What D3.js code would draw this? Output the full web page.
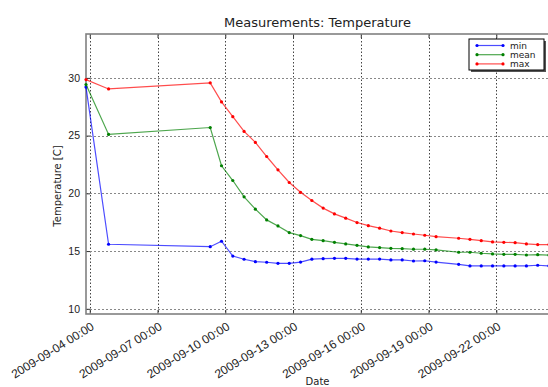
<!DOCTYPE html>
<html>
<head>
<meta charset="utf-8">
<script src="https://cdn.jsdelivr.net/npm/d3@7"></script>
<style>
	html, body {margin: 0; padding: 0; background: #fff;}
	svg {display: block; font-family: "DejaVu Sans", sans-serif;}
</style>
</head>
<body>
<div id="chart"></div>
<script>
// Sample times (12 h steps, with gaps)
const times = [
	"2009-09-03 20:00", "2009-09-04 20:00", "2009-09-09 08:00", "2009-09-09 20:00",
	"2009-09-10 08:00", "2009-09-10 20:00", "2009-09-11 08:00", "2009-09-11 20:00",
	"2009-09-12 08:00", "2009-09-12 20:00", "2009-09-13 08:00", "2009-09-13 20:00",
	"2009-09-14 08:00", "2009-09-14 20:00", "2009-09-15 08:00", "2009-09-15 20:00",
	"2009-09-16 08:00", "2009-09-16 20:00", "2009-09-17 08:00", "2009-09-17 20:00",
	"2009-09-18 08:00", "2009-09-18 20:00", "2009-09-19 08:00", "2009-09-20 08:00",
	"2009-09-20 20:00", "2009-09-21 08:00", "2009-09-21 20:00", "2009-09-22 08:00",
	"2009-09-22 20:00", "2009-09-23 08:00", "2009-09-23 20:00", "2009-09-24 08:00",
];

const minTemps = [
	29.2, 15.59, 15.38, 15.85, 14.57, 14.29, 14.08, 14.03,
	13.94, 13.94, 14.05, 14.30, 14.34, 14.37, 14.37, 14.31,
	14.31, 14.31, 14.23, 14.23, 14.14, 14.16, 14.05, 13.85,
	13.71, 13.71, 13.71, 13.71, 13.71, 13.71, 13.77, 13.71,
];
const meanTemps = [
	29.42, 25.1, 25.7, 22.39, 21.11, 19.70, 18.63, 17.70,
	17.18, 16.60, 16.34, 16.02, 15.90, 15.76, 15.62, 15.50,
	15.36, 15.30, 15.24, 15.21, 15.16, 15.16, 15.10, 14.90,
	14.90, 14.81, 14.75, 14.72, 14.72, 14.66, 14.69, 14.64,
];
const maxTemps = [
	29.85, 29.04, 29.57, 27.92, 26.64, 25.36, 24.41, 23.19,
	22.04, 20.94, 20.09, 19.38, 18.72, 18.22, 17.85, 17.47,
	17.20, 16.98, 16.74, 16.60, 16.48, 16.37, 16.25, 16.11,
	16.02, 15.90, 15.79, 15.76, 15.73, 15.62, 15.56, 15.56,
];

const seriesNames = ["min", "mean", "max"];
const seriesColors = ["#0000ff", "#008000", "#ff0000"];

const xTicks = [
	"2009-09-04 00:00", "2009-09-07 00:00", "2009-09-10 00:00", "2009-09-13 00:00",
	"2009-09-16 00:00", "2009-09-19 00:00", "2009-09-22 00:00",
];
const yTicks = [10, 15, 20, 25, 30];
const yDomain = [9.55, 33.8];

const width = 548;
const height = 387;
const plot = {left: 86, right: 549, top: 34, bottom: 314};

const parse = d3.timeParse("%Y-%m-%d %H:%M");
const fmt = d3.timeFormat("%Y-%m-%d %H:%M");
const dates = times.map(parse);

const series = [minTemps, meanTemps, maxTemps].map((vals, i) => ({
	name: seriesNames[i],
	color: seriesColors[i],
	points: vals.map((v, j) => ({date: dates[j], value: v})),
}));

const x = d3.scaleTime()
	.domain([dates[0], dates[dates.length - 1]])
	.range([plot.left, plot.right]);

const y = d3.scaleLinear()
	.domain(yDomain)
	.range([plot.bottom, plot.top]);

const svg = d3.select("#chart")
	.append("svg")
	.attr("width", width)
	.attr("height", height);

// Grid (dotted, like "k:")
const xTickDates = xTicks.map(parse);
svg.append("g")
	.selectAll("line")
	.data(xTickDates)
	.join("line")
	.attr("x1", d => Math.round(x(d)) + 0.5)
	.attr("x2", d => Math.round(x(d)) + 0.5)
	.attr("y1", plot.top)
	.attr("y2", plot.bottom)
	.attr("stroke", "#444")
	.attr("stroke-width", 1)
	.attr("stroke-dasharray", "1.5,2");

svg.append("g")
	.selectAll("line")
	.data(yTicks)
	.join("line")
	.attr("x1", plot.left)
	.attr("x2", plot.right)
	.attr("y1", d => Math.round(y(d)) + 0.5)
	.attr("y2", d => Math.round(y(d)) + 0.5)
	.attr("stroke", "#888")
	.attr("stroke-width", 1)
	.attr("stroke-dasharray", "2,2");

// Axes (ticks inside)
const xAxis = svg.append("g")
	.attr("transform", `translate(0,${plot.bottom})`)
	.call(d3.axisBottom(x).tickValues(xTickDates).tickSize(-4).tickFormat(fmt));
xAxis.select(".domain").remove();
xAxis.selectAll(".tick line").attr("stroke", "#333");
xAxis.selectAll(".tick text")
	.attr("fill", "#222")
	.attr("font-size", "12px")
	.attr("text-anchor", "end")
	.attr("x", 0)
	.attr("y", 7)
	.attr("dy", "0.75em")
	.attr("transform", "rotate(-32, 0, 7)");

svg.append("g")
	.attr("transform", `translate(0,${plot.top})`)
	.call(d3.axisTop(x).tickValues(xTickDates).tickSize(-4).tickFormat(""))
	.call(g => g.select(".domain").remove())
	.selectAll(".tick line").attr("stroke", "#333");

const yAxis = svg.append("g")
	.attr("transform", `translate(${plot.left},0)`)
	.call(d3.axisLeft(y).tickValues(yTicks).tickSize(-4).tickPadding(6));
yAxis.select(".domain").remove();
yAxis.selectAll(".tick line").attr("stroke", "#333");
yAxis.selectAll(".tick text")
	.attr("fill", "#222")
	.attr("font-size", "10.5px");

// Frame
svg.append("rect")
	.attr("x", plot.left)
	.attr("y", plot.top)
	.attr("width", plot.right - plot.left)
	.attr("height", plot.bottom - plot.top)
	.attr("fill", "none")
	.attr("stroke", "#808080")
	.attr("stroke-width", 1.6);

// Lines + dot markers
const line = d3.line()
	.x(d => x(d.date))
	.y(d => y(d.value));

const sg = svg.append("g")
	.selectAll("g")
	.data(series)
	.join("g");

sg.append("path")
	.attr("d", d => line(d.points))
	.attr("fill", "none")
	.attr("stroke", d => d.color)
	.attr("stroke-opacity", 0.7)
	.attr("stroke-width", 1.2);

sg.selectAll("circle")
	.data(d => d.points.map(p => ({...p, color: d.color})))
	.join("circle")
	.attr("cx", d => x(d.date))
	.attr("cy", d => y(d.value))
	.attr("r", 1.6)
	.attr("fill", d => d.color);

// Title and labels
svg.append("text")
	.attr("x", (plot.left + plot.right) / 2)
	.attr("y", 27)
	.attr("text-anchor", "middle")
	.attr("fill", "#222")
	.attr("font-size", "13px")
	.text("Measurements: Temperature");

svg.append("text")
	.attr("transform", "rotate(-90)")
	.attr("x", -186)
	.attr("y", 61)
	.attr("text-anchor", "middle")
	.attr("fill", "#222")
	.attr("font-size", "10px")
	.text("Temperature [C]");

svg.append("text")
	.attr("x", (plot.left + plot.right) / 2)
	.attr("y", 385)
	.attr("text-anchor", "middle")
	.attr("fill", "#222")
	.attr("font-size", "10px")
	.text("Date");

// Legend (upper right, with shadow)
const legend = svg.append("g").attr("transform", "translate(469,39)");
const lw = 75, lh = 31;
legend.append("rect")
	.attr("x", 2).attr("y", 2)
	.attr("width", lw).attr("height", lh)
	.attr("fill", "#555");
legend.append("rect")
	.attr("width", lw).attr("height", lh)
	.attr("fill", "#fff")
	.attr("stroke", "#000")
	.attr("stroke-width", 1);

const rows = legend.selectAll(".row")
	.data(series)
	.join("g")
	.attr("class", "row")
	.attr("transform", (d, i) => `translate(0,${6.5 + i * 9.2})`);

rows.append("line")
	.attr("x1", 8).attr("x2", 34)
	.attr("stroke", d => d.color)
	.attr("stroke-opacity", 0.7)
	.attr("stroke-width", 1.2);
rows.selectAll("circle")
	.data(d => [8, 34].map(cx => ({cx, color: d.color})))
	.join("circle")
	.attr("cx", d => d.cx)
	.attr("r", 1.6)
	.attr("fill", d => d.color);
rows.append("text")
	.attr("x", 41)
	.attr("dy", "0.35em")
	.attr("fill", "#222")
	.attr("font-size", "9px")
	.text(d => d.name);
</script>
</body>
</html>
